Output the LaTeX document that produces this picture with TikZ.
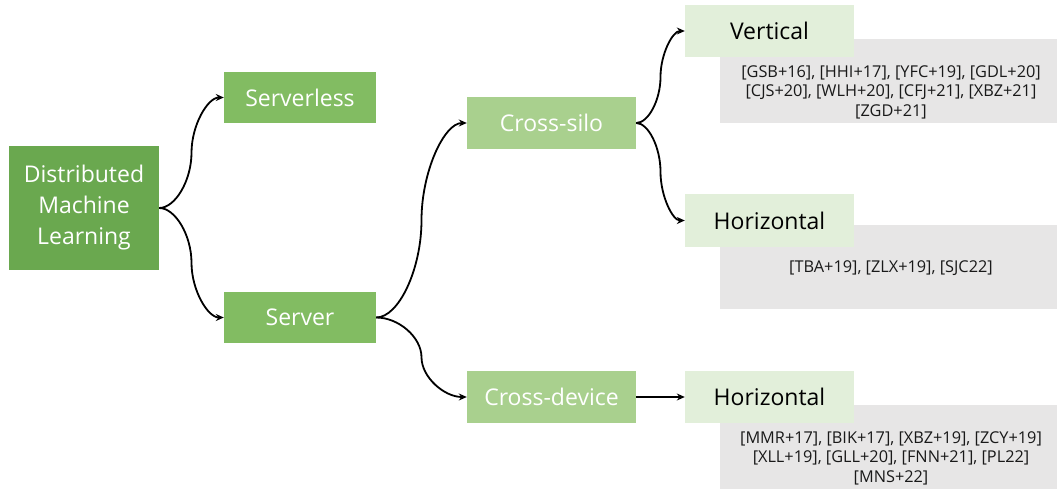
\documentclass[tikz,border=0pt]{standalone}
\usepackage{fontspec}
\setmainfont{Open Sans}
\usetikzlibrary{calc,arrows.meta}
\definecolor{gA}{RGB}{106,168,79}
\definecolor{gB}{RGB}{130,188,98}
\definecolor{gC}{RGB}{169,208,142}
\definecolor{gD}{RGB}{226,239,218}
\definecolor{grayref}{RGB}{231,230,230}
\tikzset{
  box/.style={rectangle, inner sep=0pt, align=center, font=\fontsize{23}{31}\selectfont},
  lvlA/.style={box, fill=gA, text=white},
  lvlB/.style={box, fill=gB, text=white},
  lvlC/.style={box, fill=gC, text=white},
  lvlD/.style={box, fill=gD, text=black},
  refbox/.style={rectangle, inner sep=0pt, fill=grayref},
  reftext/.style={align=center, inner sep=0pt, font=\fontsize{16.3}{19.5}\selectfont, text=black!90},
  conn/.style={line width=1.8pt, -{Stealth[length=8pt,width=7pt]}},
  bracket/.style={to path={
    let \p1=(\tikztostart), \p2=(\tikztotarget),
        \n1={0.5*(\x1+\x2)}, \n2={0.5*(\y1+\y2)} in
    .. controls ({0.5*(\x1+\n1)},\y1) and (\n1,{\y1+0.25*(\y2-\y1)}) .. (\n1,\n2)
    .. controls (\n1,{\y1+0.75*(\y2-\y1)}) and ({0.5*(\n1+\x2)},\y2) .. (\tikztotarget)}}
}
\begin{document}
\begin{tikzpicture}[x=1pt,y=-1pt]
\useasboundingbox (0,0) rectangle (1057,489);
% reference boxes (behind)
\node[refbox, minimum width=337, minimum height=84] (r1) at (888.5,81) {};
\node[refbox, minimum width=337, minimum height=84] (r2) at (888.5,267) {};
\node[refbox, minimum width=337, minimum height=84] (r3) at (888.5,447) {};
\node[reftext] (t1) at (891,92) {{}[GSB+16], [HHI+17], [YFC+19], [GDL+20]\\{}[CJS+20], [WLH+20], [CFJ+21], [XBZ+21]\\{}[ZGD+21]};
\node[reftext] (t2) at (891,268) {{}[TBA+19], [ZLX+19], [SJC22]};
\node[reftext] (t3) at (891,458) {{}[MMR+17], [BIK+17], [XBZ+19], [ZCY+19]\\{}[XLL+19], [GLL+20], [FNN+21], [PL22]\\{}[MNS+22]};
% main boxes
\node[lvlA, minimum width=150, minimum height=124] (dml) at (84,208) {Distributed\\Machine\\Learning};
\node[lvlB, minimum width=152, minimum height=51] (sl) at (300,97.5) {Serverless};
\node[lvlB, minimum width=152, minimum height=51] (sv) at (300,317.5) {Server};
\node[lvlC, minimum width=169, minimum height=52] (cs) at (551.5,123) {Cross-silo};
\node[lvlC, minimum width=169, minimum height=52] (cd) at (551.5,397) {Cross-device};
\node[lvlD, minimum width=169, minimum height=52] (ve) at (769.5,31) {Vertical};
\node[lvlD, minimum width=169, minimum height=52] (h1) at (769.5,220.5) {Horizontal};
\node[lvlD, minimum width=169, minimum height=52] (h2) at (769.5,397) {Horizontal};
% connectors
\draw[conn] (dml.east) to[bracket] (sl.west);
\draw[conn] (dml.east) to[bracket] (sv.west);
\draw[conn] (sv.east) to[bracket] (cs.west);
\draw[conn] (sv.east) to[bracket] (cd.west);
\draw[conn] (cs.east) to[bracket] (ve.west);
\draw[conn] (cs.east) to[bracket] (h1.west);
\draw[conn] (cd.east) -- (h2.west);
\end{tikzpicture}
\end{document}
